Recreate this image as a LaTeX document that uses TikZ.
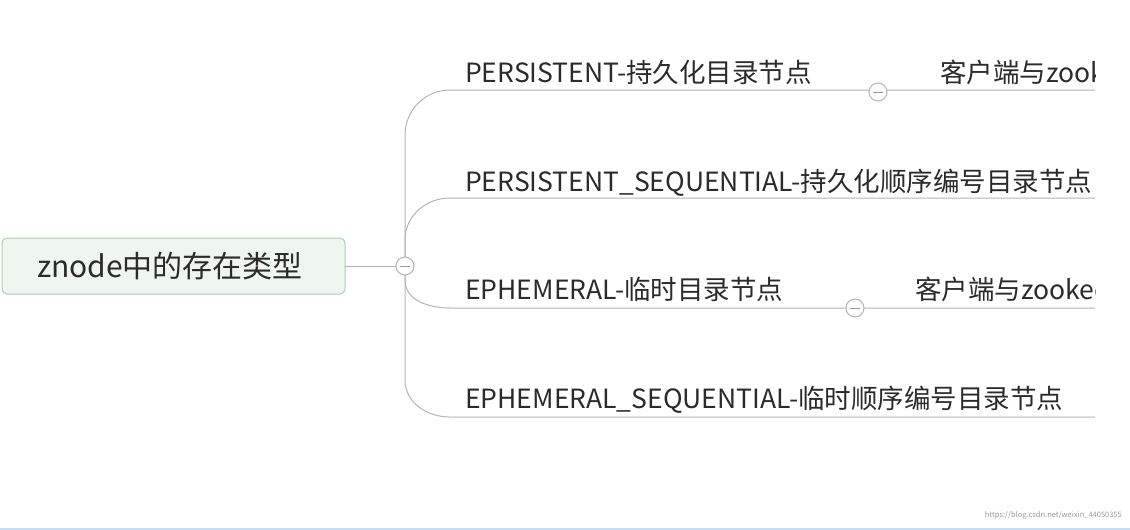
\documentclass[tikz,border=0pt]{standalone}
\usepackage{fontspec}
\setmainfont{Noto Sans CJK SC}
\usepackage{tikz}
\usetikzlibrary{calc}
\definecolor{bg}{HTML}{FFFFFF}
\definecolor{rootfill}{HTML}{EEF6EF}
\definecolor{rootline}{HTML}{A9CFB1}
\definecolor{branch}{HTML}{B4B4B4}
\definecolor{text}{HTML}{2B2B2B}
\definecolor{markgray}{HTML}{9A9A9A}
\definecolor{rule}{HTML}{C9DDF2}
\tikzset{
  root/.style={draw=rootline, fill=rootfill, rounded corners=5pt, line width=1pt},
  lnk/.style={draw=branch, line width=1pt, line cap=round},
  fold/.style={circle, draw=branch, fill=bg, line width=1pt, minimum size=18pt, inner sep=0pt},
  lab/.style={text=text, font=\fontsize{26.5}{26.5}\selectfont, anchor=base west, inner sep=0pt},
  wm/.style={text=markgray, font=\fontsize{7.5}{7.5}\selectfont, anchor=base east, inner sep=0pt},
}
\begin{document}
\begin{tikzpicture}[x=1pt,y=-1pt]
  \useasboundingbox (0,0) rectangle (1130,530);
  \fill[bg] (0,0) rectangle (1130,530);

  % root
  \draw[root] (2,238) rectangle (345,294);
  \node[text=text, font=\fontsize{30}{30}\selectfont] (root) at (170,266) {znode中的存在类型};
  \coordinate (hub) at (405,266);

  % branches
  \begin{scope}
    \clip (0,0) rectangle (1095,530);
    \draw[lnk] (345,266) -- (hub);
    \draw[lnk] (hub) -- (405,135) to[out=90,in=180] (450,90) -- (1100,90);
    \draw[lnk] (hub) -- (405,240) to[out=90,in=180] (450,198) -- (1100,198);
    \draw[lnk] (hub) -- (405,280) to[out=-90,in=180] (450,308) -- (1100,308);
    \draw[lnk] (hub) -- (405,380) to[out=-90,in=180] (450,417) -- (1100,417);

    \node[lab] (p1) at (465,82) {PERSISTENT-持久化目录节点};
    \node[lab] (p2) at (465,191) {PERSISTENT\_SEQUENTIAL-持久化顺序编号目录节点};
    \node[lab] (e1) at (465,299) {EPHEMERAL-临时目录节点};
    \node[lab] (e2) at (465,408) {EPHEMERAL\_SEQUENTIAL-临时顺序编号目录节点};
    \node[lab] (c1) at (940,82) {客户端与zookeeper};
    \node[lab] (c2) at (915,299) {客户端与zookeeper};
  \end{scope}

  % fold marks
  \foreach \nm/\px/\py in {f0/405/266, f1/878/92, f2/855/308} {
    \node[fold] (\nm) at (\px,\py) {};
    \draw[markgray, line width=1pt] ($(\nm)+(-5,0)$) -- ($(\nm)+(5,0)$);
  }

  \node[wm] (url) at (1122,517) {https://blog.csdn.net/weixin\_44050355};
  \draw[rule, line width=1.5pt] (0,529) -- (1130,529);
\end{tikzpicture}
\end{document}
